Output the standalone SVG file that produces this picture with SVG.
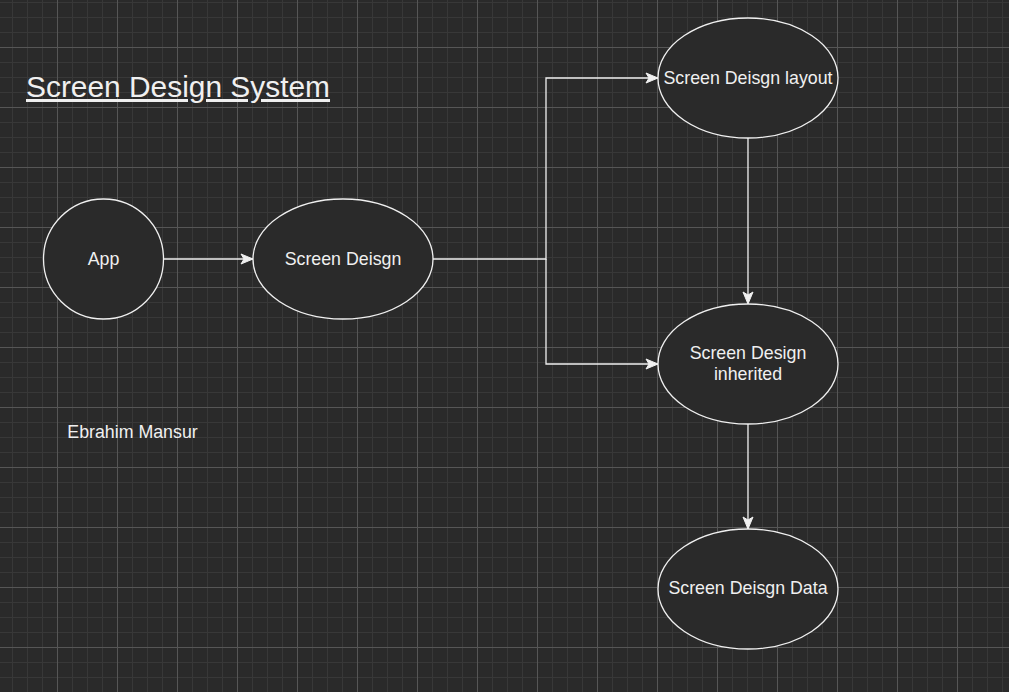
<svg xmlns="http://www.w3.org/2000/svg" width="1009" height="692" viewBox="0 0 1009 692">
  <defs>
    <pattern id="grid" patternUnits="userSpaceOnUse" x="57" y="47" width="60" height="60">
      <g stroke="#383838" stroke-width="1">
        <line x1="15.5" y1="0" x2="15.5" y2="60"/>
        <line x1="30.5" y1="0" x2="30.5" y2="60"/>
        <line x1="45.5" y1="0" x2="45.5" y2="60"/>
        <line x1="0" y1="15.5" x2="60" y2="15.5"/>
        <line x1="0" y1="30.5" x2="60" y2="30.5"/>
        <line x1="0" y1="45.5" x2="60" y2="45.5"/>
      </g>
      <g stroke="#565656" stroke-width="1">
        <line x1="0.5" y1="0" x2="0.5" y2="60"/>
        <line x1="0" y1="0.5" x2="60" y2="0.5"/>
      </g>
    </pattern>
    <marker id="arrow" markerUnits="userSpaceOnUse" markerWidth="14" markerHeight="12" viewBox="-13 -6 14 12" refX="0" refY="0" orient="auto">
      <path d="M-12,-5 L0,0 L-12,5 L-9,0 Z" fill="#f0f0f0" stroke="#f0f0f0" stroke-width="1"/>
    </marker>
    <style>
      .node { fill: #2a2a2a; stroke: #f0f0f0; stroke-width: 1.3; }
      .lbl { font-family: "Liberation Sans", Arial, sans-serif; font-size: 17.8px; fill: #f0f0f0; text-anchor: middle; }
      .edge { fill: none; stroke: #f0f0f0; stroke-width: 1.3; marker-end: url(#arrow); }
    </style>
  </defs>
  <rect width="1009" height="692" fill="#2a2a2a"/>
  <rect width="1009" height="692" fill="url(#grid)"/>

  <g id="title">
    <text x="26" y="97" font-family="'Liberation Sans', Arial, sans-serif" font-size="29.9" fill="#f0f0f0" text-decoration="underline">Screen Design System</text>
  </g>

  <g id="author">
    <text x="132.5" y="438" class="lbl">Ebrahim Mansur</text>
  </g>

  <g id="connectors">
    <path class="edge" d="M164,259 L253,259"/>
    <path class="edge" d="M433,259 L546,259 L546,78 L658,78"/>
    <path class="edge" d="M546,259 L546,364 L658,364"/>
    <path class="edge" d="M748,138 L748,304"/>
    <path class="edge" d="M748,424 L748,529"/>
  </g>

  <g id="app">
    <circle class="node" cx="103.5" cy="259" r="60"/>
    <text class="lbl" x="103.5" y="265">App</text>
  </g>

  <g id="screen-deisgn">
    <ellipse class="node" cx="343" cy="259" rx="90" ry="60"/>
    <text class="lbl" x="343" y="265">Screen Deisgn</text>
  </g>

  <g id="screen-deisgn-layout">
    <ellipse class="node" cx="748" cy="78" rx="90" ry="60"/>
    <text class="lbl" x="748" y="84">Screen Deisgn layout</text>
  </g>

  <g id="screen-design-inherited">
    <ellipse class="node" cx="748" cy="364" rx="90" ry="60"/>
    <text class="lbl" x="748" y="359">Screen Design</text>
    <text class="lbl" x="748" y="380">inherited</text>
  </g>

  <g id="screen-deisgn-data">
    <ellipse class="node" cx="748" cy="589" rx="90" ry="60"/>
    <text class="lbl" x="748" y="594">Screen Deisgn Data</text>
  </g>
</svg>
